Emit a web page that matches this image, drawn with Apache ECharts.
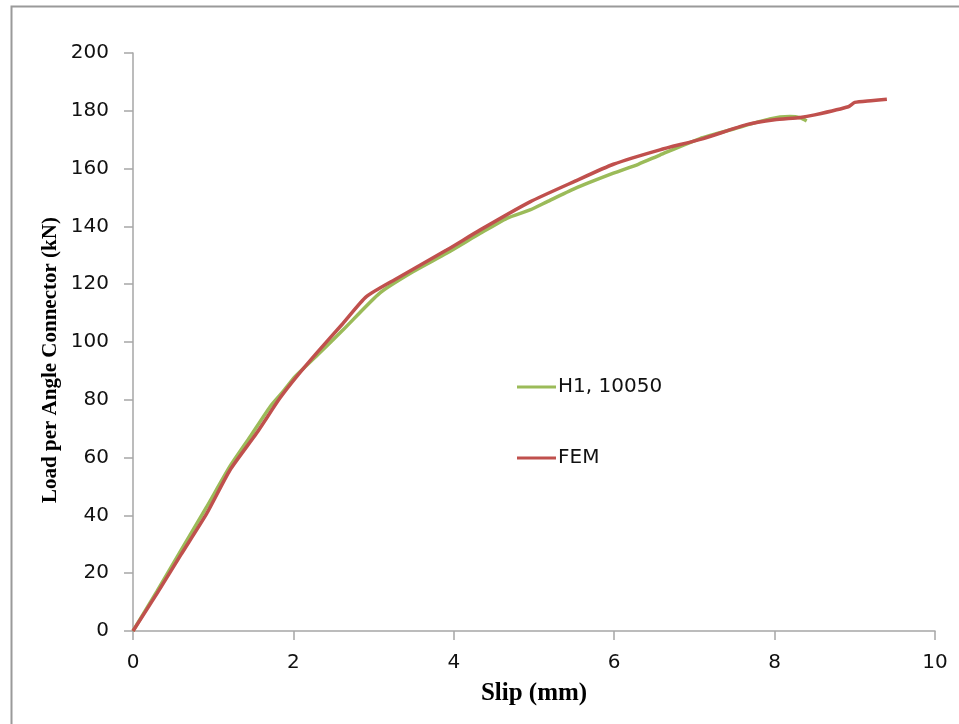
<!DOCTYPE html>
<html>
<head>
<meta charset="utf-8">
<script src="https://cdn.jsdelivr.net/npm/echarts@6/dist/echarts.min.js"></script>
<style>html,body{margin:0;padding:0;background:#fff}#c{width:959px;height:724px}</style>
</head>
<body>
<div id="c"></div>
<script>
const xTicks = [0, 2, 4, 6, 8, 10];
const yTicks = [0, 20, 40, 60, 80, 100, 120, 140, 160, 180, 200];
const seriesNames = ['H1, 10050', 'FEM'];
const xTitle = 'Slip (mm)';
const yTitle = 'Load per Angle Connector (kN)';
const h1Slip = [0, 0.3, 0.6, 0.92, 1.21, 1.46, 1.71, 1.87, 2.02, 2.3, 2.62, 3.08, 3.49, 3.91, 4.33, 4.66, 4.95, 5.16, 5.5, 5.99, 6.3, 6.57, 7.07, 7.5, 7.94, 8.19, 8.32, 8.40];
const h1Load = [0, 13.8, 28, 43, 57, 67.2, 77.6, 82.8, 88, 95.5, 104.2, 117, 124.3, 130.7, 137.6, 142.8, 145.7, 148.5, 153, 158.4, 161.5, 164.7, 170.4, 173.8, 177.2, 178, 177.6, 176.5];
const femSlip = [0, 0.3, 0.6, 0.92, 1.21, 1.54, 1.83, 2.04, 2.3, 2.62, 2.91, 3.29, 3.91, 4.33, 4.95, 5.5, 5.99, 6.57, 7.1, 7.65, 8.0, 8.32, 8.5, 8.92, 9.0, 9.2, 9.40];
const femLoad = [0, 13, 26.5, 40.7, 55.7, 68.4, 80.5, 88, 96.5, 106.5, 115.7, 122, 131.8, 138.8, 148.5, 155.5, 161.5, 166.5, 170.3, 175.2, 176.9, 177.7, 178.6, 181.4, 182.9, 183.5, 184];

const pair = (xs, ys) => xs.map((x, i) => [x, ys[i]]);
const chart = echarts.init(document.getElementById('c'));
const axisColor = '#a6a6a6';
const tickFont = {fontFamily: 'DejaVu Sans', fontSize: 20, color: '#111'};
chart.setOption({
  animation: false,
  backgroundColor: '#fff',
  graphic: [{
    type: 'rect', left: 9, top: 4, silent: true,
    shape: {width: 1200, height: 1200},
    style: {fill: 'none', stroke: '#9a9a9a', lineWidth: 2}
  }, {
    type: 'text', x: 51, y: 360, rotation: Math.PI / 2, silent: true,
    style: {text: yTitle, fontFamily: 'Liberation Serif', fontWeight: 'bold', fontSize: 21, fill: '#000', align: 'center', verticalAlign: 'middle'}
  }],
  grid: {left: 133, right: 24, top: 53, bottom: 93, containLabel: false},
  legend: {
    orient: 'vertical', left: 512, top: 372,
    itemWidth: 39, itemHeight: 3, itemGap: 51,
    icon: 'rect',
    textStyle: {fontFamily: 'DejaVu Sans', fontSize: 20, color: '#111', padding: [0, 0, 0, -3]},
    data: seriesNames
  },
  xAxis: {
    type: 'value', min: xTicks[0], max: xTicks[xTicks.length - 1], interval: 2,
    name: xTitle, nameLocation: 'middle', nameGap: 50,
    nameTextStyle: {fontFamily: 'Liberation Serif', fontWeight: 'bold', fontSize: 25, color: '#000'},
    axisLine: {show: true, lineStyle: {color: axisColor, width: 1.5}},
    axisTick: {show: true, length: 9, lineStyle: {color: axisColor, width: 1.5}},
    axisLabel: Object.assign({margin: 22}, tickFont),
    splitLine: {show: false}
  },
  yAxis: {
    type: 'value', min: yTicks[0], max: yTicks[yTicks.length - 1], interval: 20,
    axisLine: {show: true, lineStyle: {color: axisColor, width: 1.5}},
    axisTick: {show: true, length: 9, lineStyle: {color: axisColor, width: 1.5}},
    axisLabel: Object.assign({margin: 24}, tickFont),
    splitLine: {show: false}
  },
  series: [
    {name: seriesNames[0], type: 'line', data: pair(h1Slip, h1Load), showSymbol: false, symbol: 'none', smooth: 0.2,
     lineStyle: {color: '#9bbb59', width: 3.5}, itemStyle: {color: '#9bbb59'}},
    {name: seriesNames[1], type: 'line', data: pair(femSlip, femLoad), showSymbol: false, symbol: 'none', smooth: 0.2,
     lineStyle: {color: '#c0504d', width: 3.5}, itemStyle: {color: '#c0504d'}}
  ]
});
</script>
</body>
</html>
